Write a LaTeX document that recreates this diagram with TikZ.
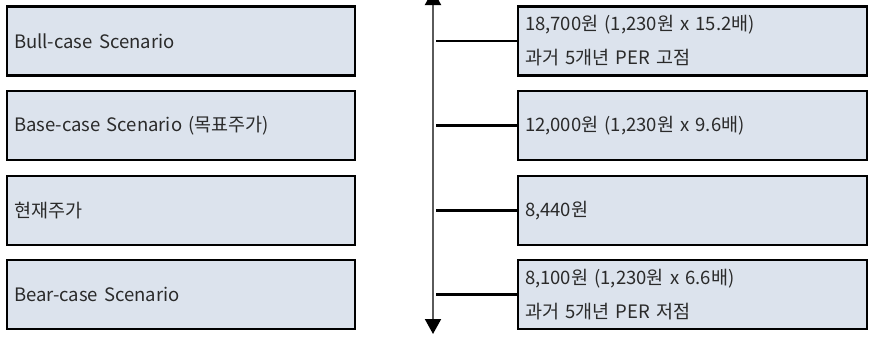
\documentclass[tikz,border=0pt]{standalone}
\usepackage{fontspec}
\setmainfont{Noto Sans CJK KR}
\usetikzlibrary{arrows.meta}
\definecolor{boxfill}{HTML}{DCE3ED}
\definecolor{txt}{HTML}{2A2A2A}
\definecolor{axisgray}{HTML}{5A5A5A}
\tikzset{
  casebox/.style={draw=black, line width=2.8pt, fill=boxfill, rectangle,
    minimum height=69pt, inner xsep=7pt, inner ysep=0pt, text width=334pt,
    align=left, text=txt, font=\fontsize{18.5}{34}\selectfont},
  valbox/.style={casebox, text width=335pt},
  link/.style={draw=black, line width=2.8pt},
  axisline/.style={draw=axisgray, line width=2pt,
    {Triangle[length=15pt,width=16pt,fill=black,color=black]}-{Triangle[length=15pt,width=16pt,fill=black,color=black]}}
}
\begin{document}
\begin{tikzpicture}[x=1pt,y=-1pt]
\useasboundingbox (0,0) rectangle (870,338);
\node[casebox] (L1) at (181,41) {Bull-case Scenario};
\node[casebox] (L2) at (181,125.5) {Base-case Scenario (목표주가)};
\node[casebox] (L3) at (181,210.5) {현재주가};
\node[casebox] (L4) at (181,294.5) {Bear-case Scenario};
\node[valbox] (R1) at (692.5,41) {18,700원 (1,230원 x 15.2배)\\과거 5개년 PER 고점};
\node[valbox] (R2) at (692.5,125.5) {12,000원 (1,230원 x 9.6배)};
\node[valbox] (R3) at (692.5,210.5) {8,440원};
\node[valbox] (R4) at (692.5,294.5) {8,100원 (1,230원 x 6.6배)\\과거 5개년 PER 저점};
\coordinate (top) at (433,-10);
\coordinate (bot) at (433,334);
\draw[axisline] (bot) -- (top);
\coordinate (c1) at (436,41);
\coordinate (c2) at (436,125.5);
\coordinate (c3) at (436,210.5);
\coordinate (c4) at (436,294.5);
\draw[link] (c1) -- (R1.west);
\draw[link] (c2) -- (R2.west);
\draw[link] (c3) -- (R3.west);
\draw[link] (c4) -- (R4.west);
\end{tikzpicture}
\end{document}
